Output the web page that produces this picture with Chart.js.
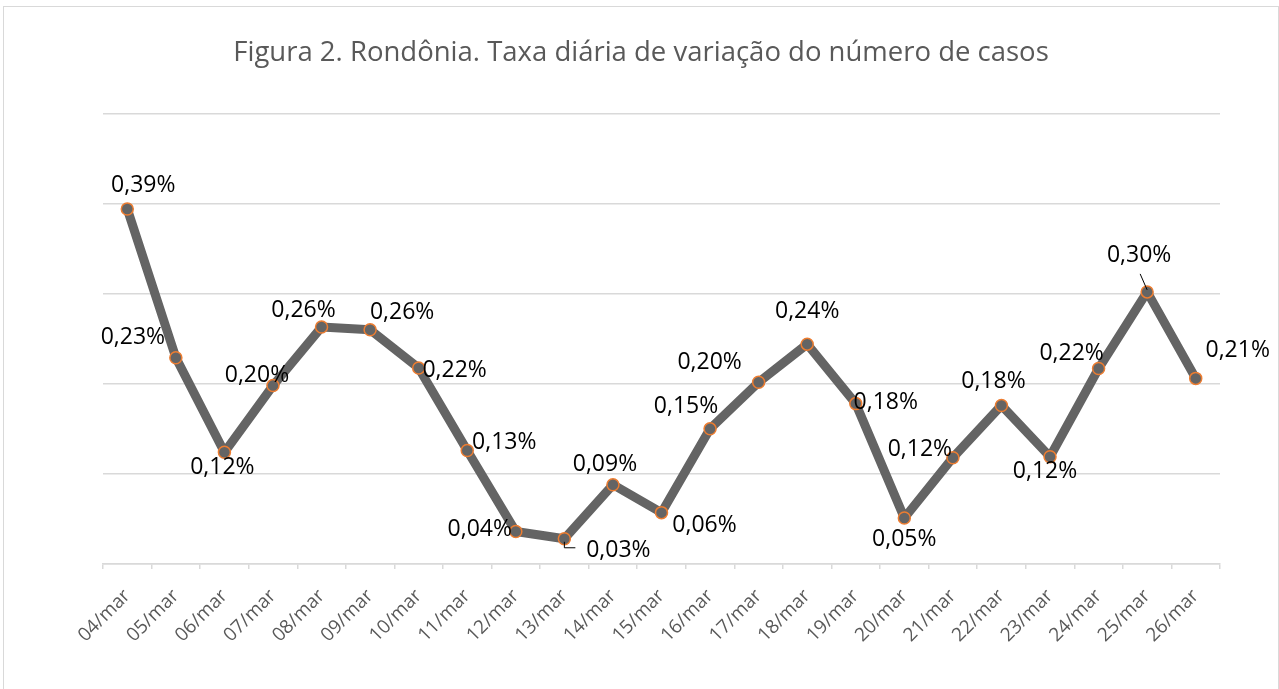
<!DOCTYPE html>
<html>
<head>
<meta charset="utf-8">
<script src="https://cdn.jsdelivr.net/npm/chart.js@4"></script>
<style>
    body { margin: 0; background: #fff; overflow: hidden; }
    #frame {
        position: absolute; left: 3px; top: 6px;
        width: 1274px; height: 690px;
        border: 1px solid #d9d9d9;
    }
</style>
</head>
<body>
<div id="frame"><canvas id="rateChart" width="1274" height="690"></canvas></div>
<script>
const days = ['04/mar', '05/mar', '06/mar', '07/mar', '08/mar', '09/mar', '10/mar', '11/mar',
    '12/mar', '13/mar', '14/mar', '15/mar', '16/mar', '17/mar', '18/mar', '19/mar',
    '20/mar', '21/mar', '22/mar', '23/mar', '24/mar', '25/mar', '26/mar'];

// daily variation rate, in %
const rates = [0.394, 0.229, 0.124, 0.198, 0.263, 0.260, 0.2175, 0.126,
    0.036, 0.028, 0.088, 0.057, 0.150, 0.2017, 0.244, 0.178,
    0.051, 0.118, 0.176, 0.119, 0.217, 0.302, 0.206];

const yTicks = [0, 0.1, 0.2, 0.3, 0.4, 0.5];

// where each value label sits relative to its point (dx, dy)
const labelOffsets = [[16, -24], [-43, -20], [-2, 15], [-16, -10], [-18, -17], [32, -17],
    [36, 2], [37, -8], [-36, -2], [54, 12], [-8, -20], [43, 13], [-24, -22], [-49, -20],
    [0, -33], [30, -1], [0, 21], [-33, -8], [-8, -24], [-5, 15], [-27, -15], [-8, -36], [42, -28]];

const GRID = '#d9d9d9';
const TEXT = '#595959';
const FONT = "'Open Sans', sans-serif";

const valueLabels = {
    id: 'valueLabels',
    afterDatasetsDraw(chart) {
        const ctx = chart.ctx;
        const pts = chart.getDatasetMeta(0).data;
        ctx.save();
        ctx.font = '23px ' + FONT;
        ctx.fillStyle = '#000';
        ctx.textAlign = 'center';
        ctx.textBaseline = 'middle';
        pts.forEach((p, i) => {
            const [dx, dy] = labelOffsets[i];
            ctx.fillText(rates[i].toFixed(2).replace('.', ',') + '%', p.x + dx, p.y + dy);
        });
        // leader lines for the two labels Excel pushed away
        ctx.strokeStyle = '#000';
        ctx.lineWidth = 1;
        let p = pts[9];
        ctx.beginPath();
        ctx.moveTo(p.x, p.y + 3);
        ctx.lineTo(p.x, p.y + 9);
        ctx.lineTo(p.x + 11, p.y + 9);
        ctx.stroke();
        p = pts[21];
        ctx.beginPath();
        ctx.moveTo(p.x, p.y - 2);
        ctx.lineTo(p.x - 7, p.y - 18);
        ctx.stroke();
        ctx.restore();
    }
};

new Chart(document.getElementById('rateChart'), {
    type: 'line',
    data: {
        labels: days,
        datasets: [{
            data: rates,
            borderColor: '#646464',
            borderWidth: 9,
            borderJoinStyle: 'round',
            borderCapStyle: 'round',
            pointRadius: 6,
            pointBorderWidth: 1.5,
            pointBorderColor: '#ED7D31',
            pointBackgroundColor: '#646464',
            tension: 0
        }]
    },
    options: {
        responsive: false,
        animation: false,
        events: [],
        layout: { padding: 0 },
        plugins: {
            legend: { display: false },
            tooltip: { enabled: false },
            title: {
                display: true,
                text: 'Figura 2. Rondônia. Taxa diária de variação do número de casos',
                color: TEXT,
                font: { family: FONT, size: 27.5, weight: 'normal', lineHeight: 1.2 },
                padding: { top: 30, bottom: 43.5 }
            }
        },
        scales: {
            x: {
                offset: true,
                grid: {
                    offset: true,
                    drawOnChartArea: false,
                    drawTicks: true,
                    tickLength: 5,
                    color: GRID,
                    lineWidth: 1.5
                },
                border: { color: GRID, width: 1.5 },
                ticks: {
                    color: TEXT,
                    font: { family: FONT, size: 19 },
                    minRotation: 45,
                    maxRotation: 45,
                    autoSkip: false,
                    padding: 16
                },
                afterFit(scale) { scale.height = 133; }
            },
            y: {
                min: yTicks[0],
                max: yTicks[yTicks.length - 1],
                afterBuildTicks(scale) { scale.ticks = yTicks.map(v => ({ value: v })); },
                ticks: { display: false },
                grid: { color: GRID, lineWidth: 1.5, drawTicks: false },
                border: { display: false },
                afterFit(scale) { scale.width = 99; }
            },
            // empty right-hand axis, only to hold the right margin
            yRight: {
                position: 'right',
                min: yTicks[0],
                max: yTicks[yTicks.length - 1],
                ticks: { display: false },
                grid: { display: false, drawTicks: false },
                border: { display: false },
                afterFit(scale) { scale.width = 58; }
            }
        }
    },
    plugins: [valueLabels]
});
</script>
</body>
</html>
